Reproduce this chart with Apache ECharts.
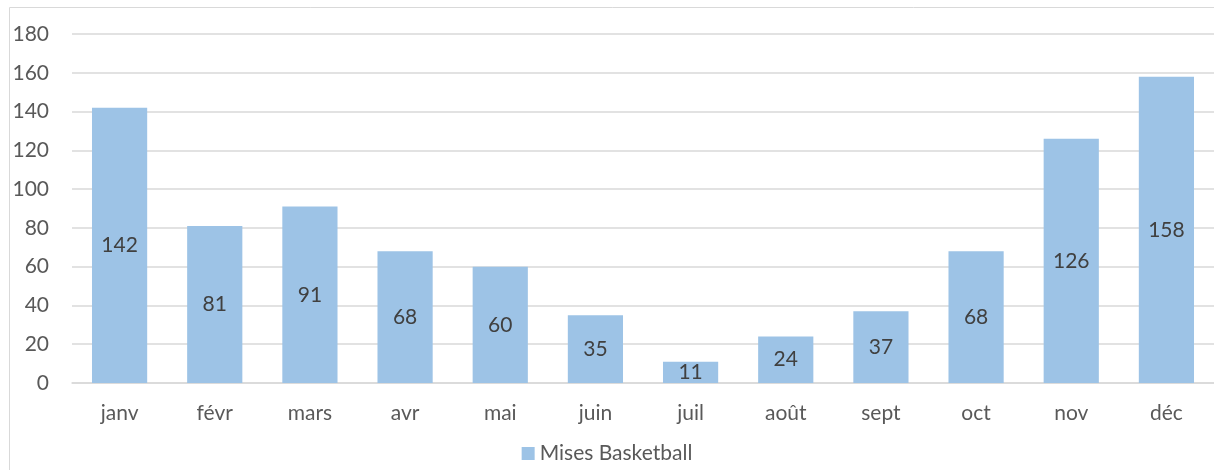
<!DOCTYPE html>
<html>
<head>
<meta charset="utf-8">
<style>
  html, body { margin: 0; padding: 0; background: #fff; }
  #chart { width: 1214px; height: 470px; }
</style>
<script src="https://cdn.jsdelivr.net/npm/echarts@6/dist/echarts.min.js"></script>
</head>
<body>
<div id="chart"></div>
<script>
// données
const months = ['janv', 'févr', 'mars', 'avr', 'mai', 'juin', 'juil', 'août', 'sept', 'oct', 'nov', 'déc']
const mises = [142, 81, 91, 68, 60, 35, 11, 24, 37, 68, 126, 158]
const seriesName = 'Mises Basketball'

const textColor = '#595959'
const font = 'Lato, "Open Sans", sans-serif'
const fontSize = 21

const chart = echarts.init(document.getElementById('chart'))
chart.setOption({
  animation: false,
  textStyle: { fontFamily: font },
  graphic: [{
    type: 'rect',
    shape: { x: 9.5, y: 7.5, width: 1230, height: 480 },
    style: { fill: 'none', stroke: '#D9D9D9', lineWidth: 1 },
    silent: true
  }],
  grid: { left: 72, top: 34, width: 1146, height: 349 },
  legend: {
    top: 438,
    left: 'center',
    itemWidth: 13,
    itemHeight: 13,
    itemGap: 8,
    icon: 'rect',
    textStyle: { color: textColor, fontSize: fontSize, fontFamily: font },
    data: [seriesName]
  },
  xAxis: {
    type: 'category',
    data: months,
    axisLine: { lineStyle: { color: '#D9D9D9', width: 1.5 } },
    axisTick: { show: false },
    axisLabel: { color: textColor, fontSize: fontSize, margin: 20, fontFamily: font }
  },
  yAxis: {
    type: 'value',
    min: 0,
    max: 180,
    interval: 20,
    axisLine: { show: false },
    axisTick: { show: false },
    axisLabel: { color: textColor, fontSize: fontSize, margin: 23, fontFamily: font },
    splitLine: { lineStyle: { color: '#D9D9D9', width: 1.5 } }
  },
  series: [{
    name: seriesName,
    type: 'bar',
    data: mises,
    barCategoryGap: '42%',
    itemStyle: { color: '#9DC3E6' },
    label: {
      show: true,
      position: 'inside',
      color: '#404040',
      fontSize: fontSize,
      fontFamily: font
    }
  }]
})
</script>
</body>
</html>
